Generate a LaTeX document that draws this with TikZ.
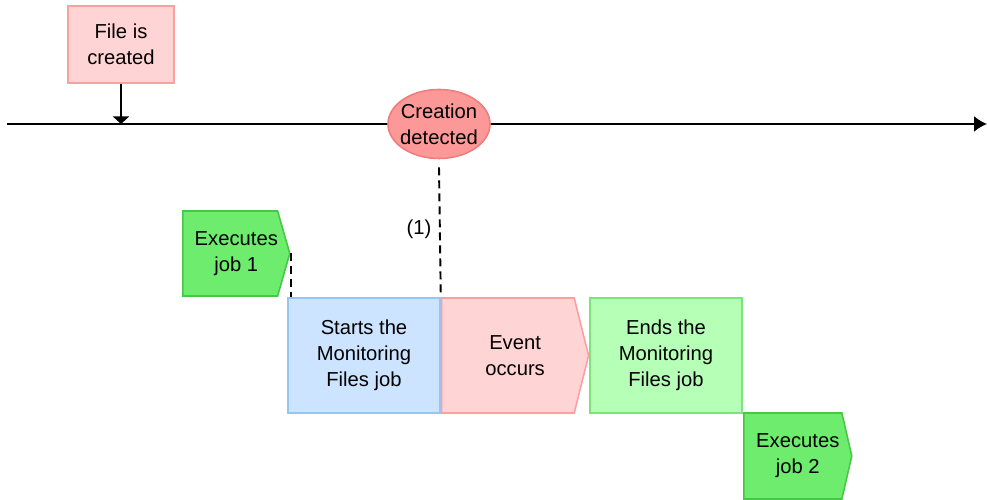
\documentclass[tikz,border=0pt]{standalone}
\usepackage{fontspec}
\setmainfont{Liberation Sans}
\usepackage{tikz}
\usetikzlibrary{positioning, arrows.meta, shapes.geometric, shapes.symbols, calc}
\definecolor{PinkFill}{RGB}{255,212,212}
\definecolor{PinkLine}{RGB}{250,160,160}
\definecolor{RedFill}{RGB}{252,152,152}
\definecolor{RedLine}{RGB}{240,125,125}
\definecolor{JobFill}{RGB}{110,236,110}
\definecolor{JobLine}{RGB}{70,200,70}
\definecolor{MonFill}{RGB}{204,228,255}
\definecolor{MonLine}{RGB}{150,198,240}
\definecolor{EndFill}{RGB}{182,255,182}
\definecolor{EndLine}{RGB}{120,230,120}
\tikzset{
  txt/.style={font=\fontsize{11.5}{14.8}\selectfont, align=center},
  evbox/.style={txt, draw=PinkLine, fill=PinkFill, line width=0.9pt, inner sep=0pt},
  detect/.style={txt, ellipse, draw=RedLine, fill=RedFill, line width=0.9pt, inner sep=-4pt,
    minimum width=2.04cm, minimum height=1.38cm},
  pointed/.style={signal, signal to=east, line width=0.9pt, inner sep=0pt, anchor=west},
  jobbox/.style={pointed, draw=JobLine, fill=JobFill},
  monbox/.style={txt, draw=MonLine, fill=MonFill, line width=0.9pt, inner sep=0pt,
    minimum width=3.04cm, minimum height=2.3cm},
  endbox/.style={txt, draw=EndLine, fill=EndFill, line width=0.9pt, inner sep=0pt,
    minimum width=3.04cm, minimum height=2.3cm},
  timeline/.style={-{Latex[length=0.26cm, width=0.32cm]}, line width=1.1pt},
  downarr/.style={-{Triangle[length=0.15cm, width=0.32cm]}, line width=0.9pt},
  dashline/.style={line width=1.1pt, dash pattern=on 0.16cm off 0.1cm},
}
\begin{document}
\begin{tikzpicture}
  \useasboundingbox (0,0) rectangle (19.74,10);
  % time axis
  \coordinate (t0) at (0.14,7.52);
  \coordinate (t1) at (19.74,7.52);
  \draw[timeline] (t0) -- (t1);
  \node[evbox, minimum width=2.12cm, minimum height=1.54cm] (created) at (2.42,9.11) {File is\\created};
  \coordinate (hit) at (2.42,7.52);
  \draw[downarr] (created) -- (hit);
  \node[detect] (detected) at (8.78,7.52) {Creation\\detected};
  % monitoring job
  \node[jobbox, signal pointer angle=148, minimum width=2.14cm, minimum height=1.7cm] (job1) at (3.64,4.93) {};
  \node[txt] (job1txt) at ($(job1.west)!0.5!(job1.east)$) {Executes\\job 1};
  \node[monbox] (start) at (7.28,2.89) {Starts the\\Monitoring\\Files job};
  \node[pointed, draw=PinkLine, fill=PinkFill, signal pointer angle=152, minimum width=2.94cm,
    minimum height=2.3cm] (event) at (start.east) {};
  \node[txt] (eventtxt) at ($(event.west)!0.5!(event.east)$) {Event\\occurs};
  \node[endbox] (ends) at (13.32,2.89) {Ends the\\Monitoring\\Files job};
  \node[jobbox, signal pointer angle=154, minimum width=2.16cm, minimum height=1.72cm] (job2) at (14.86,0.88) {};
  \node[txt] (job2txt) at ($(job2.west)!0.5!(job2.east)$) {Executes\\job 2};
  \draw[dashline] ([yshift=-0.16cm]detected.south) -- (start.north east) node[pos=0.48, left=1pt, txt] (one) {(1)};
  \draw[dashline] (job1.east) -- (job1.east |- start.north);
\end{tikzpicture}
\end{document}
